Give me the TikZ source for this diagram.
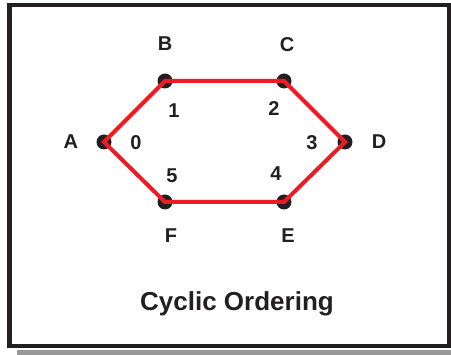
\documentclass[tikz,border=0pt]{standalone}
\usepackage{fontspec}
\setmainfont{Liberation Sans}
\usetikzlibrary{positioning}

\definecolor{ringred}{RGB}{237,28,36}
\definecolor{dotblack}{RGB}{35,31,32}

\begin{document}
\begin{tikzpicture}[
  x=1pt, y=-1pt,
  font=\fontsize{20}{24}\selectfont\bfseries,
  dot/.style={circle, fill=dotblack, inner sep=0pt, minimum size=15pt},
  lbl/.style={inner sep=0pt, text=dotblack},
  num/.style={inner sep=0pt, text=dotblack},
  ring/.style={draw=ringred, line width=4pt},
  frame/.style={draw=dotblack, line width=4.5pt, fill=white}
]
\useasboundingbox (0,0) rectangle (451,355);

% ── Frame with drop shadow ────────────────────────────────────────────────
\fill[black!40] (17,12) rectangle (460,360);
\fill[white] (4,0) rectangle (455,350.5);
\draw[frame] (9.5,5) rectangle (449,346);

% ── The six positions ─────────────────────────────────────────────────────
\node[dot] (a) at (104,142) {};
\node[dot] (b) at (165,81)  {};
\node[dot] (c) at (284,81)  {};
\node[dot] (d) at (345,142) {};
\node[dot] (e) at (284,202) {};
\node[dot] (f) at (165,202) {};

\node[lbl, above=23pt of b] {B};
\node[lbl, above=21pt of c, xshift=3pt] {C};
\node[lbl, left=18pt of a] {A};
\node[lbl, right=19pt of d] {D};
\node[lbl, below=19pt of f, xshift=6pt] {F};
\node[lbl, below=19pt of e, xshift=4pt] {E};

% ── The cycle ─────────────────────────────────────────────────────────────
\draw[ring] (a.center) -- (b.center) -- (c.center) -- (d.center)
  -- (e.center) -- (f.center) -- cycle;

% ── Order indices ─────────────────────────────────────────────────────────
\node[num] (n0) at (136,143) {0};
\node[num] (n1) at (174,111) {1};
\node[num] (n2) at (274,109) {2};
\node[num] (n3) at (312,143) {3};
\node[num] (n4) at (276,174) {4};
\node[num] (n5) at (172,176) {5};

\node[inner sep=0pt, text=dotblack, font=\fontsize{26}{30}\selectfont\bfseries]
  (title) at (237,304) {Cyclic Ordering};

\end{tikzpicture}
\end{document}
